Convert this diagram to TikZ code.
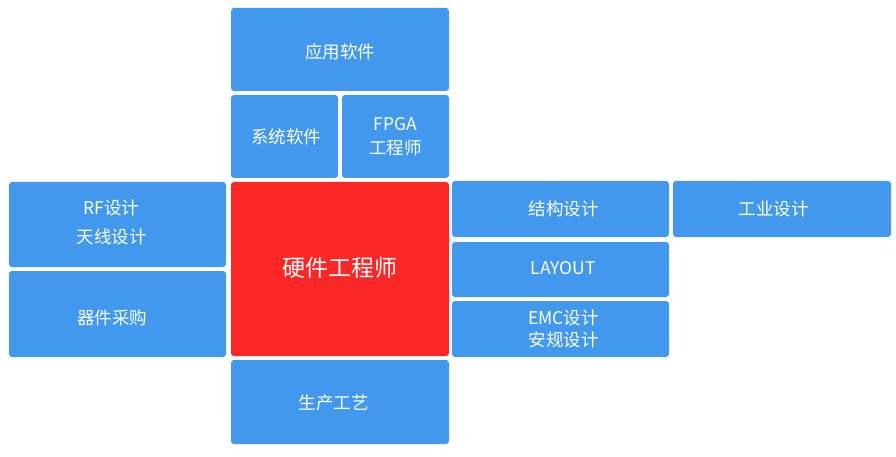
\documentclass[tikz,border=0pt]{standalone}
\usepackage{fontspec}
\setmainfont{Noto Sans CJK SC}
\definecolor{boxblue}{HTML}{4298EC}
\definecolor{boxred}{HTML}{FB2626}
\begin{document}
\begin{tikzpicture}[x=1pt,y=-1pt,
  tile/.style={fill=boxblue, draw=none, rounded corners=3pt, inner sep=0pt},
  core/.style={fill=boxred, draw=none, rounded corners=3pt, inner sep=0pt},
  label/.style={text=white, font=\fontsize{17.5}{24}\selectfont, align=center, inner sep=0pt},
  biglabel/.style={text=white, font=\fontsize{23}{28}\selectfont, align=center, inner sep=0pt}]
\useasboundingbox (0,0) rectangle (896,457);
\newcommand{\tilebox}[6]{%
  \node[#6, minimum width={(#4)-(#2)}, minimum height={(#5)-(#3)}]
    (#1) at ({((#2)+(#4))/2},{((#3)+(#5))/2}) {};}
\tilebox{app}{231}{8}{449}{91}{tile}
\tilebox{sys}{231}{95}{338}{178}{tile}
\tilebox{fpga}{342}{95}{449}{178}{tile}
\tilebox{hw}{231}{182}{449}{356}{core}
\tilebox{rf}{9}{182}{226}{267}{tile}
\tilebox{buy}{9}{271}{226}{357}{tile}
\tilebox{mech}{452}{181}{669}{237}{tile}
\tilebox{ind}{673}{181}{891}{237}{tile}
\tilebox{lay}{452}{242}{669}{297}{tile}
\tilebox{emc}{452}{301}{669}{357}{tile}
\tilebox{prod}{231}{360}{449}{444}{tile}
\node[label] (tapp) at ([yshift=-2pt]app.center) {应用软件};
\node[label] (tsys) at ([xshift=1.5pt]sys.center) {系统软件};
\node[label, font=\fontsize{17.5}{24}\selectfont] (tfpga) at (fpga) {FPGA\\工程师};
\node[biglabel] (thw) at ([yshift=1pt]hw.center) {硬件工程师};
\node[label, font=\fontsize{17.5}{29}\selectfont] (trf) at ([xshift=-6pt,yshift=2pt]rf.center) {RF设计\\天线设计};
\node[label] (tbuy) at ([xshift=-5.5pt,yshift=-4pt]buy.center) {器件采购};
\node[label] (tmech) at ([xshift=3pt]mech.center) {结构设计};
\node[label] (tind) at ([xshift=-8.5pt]ind.center) {工业设计};
\node[label] (tlay) at ([xshift=2.5pt,yshift=1pt]lay.center) {LAYOUT};
\node[label, font=\fontsize{17.5}{22}\selectfont] (temc) at ([xshift=3pt]emc.center) {EMC设计\\安规设计};
\node[label] (tprod) at ([xshift=-6.5pt,yshift=-1pt]prod.center) {生产工艺};
\end{tikzpicture}
\end{document}
